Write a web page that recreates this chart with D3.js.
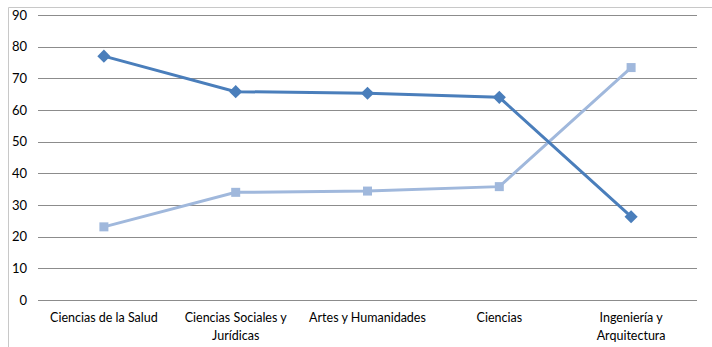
<!DOCTYPE html>
<html><head><meta charset="utf-8">
<script src="https://cdn.jsdelivr.net/npm/d3@7"></script>
<style>body{margin:0;background:#fff}svg{display:block}</style>
</head><body>
<script>
const categories = [["Ciencias de la Salud"], ["Ciencias Sociales y", "Jurídicas"], ["Artes y Humanidades"], ["Ciencias"], ["Ingeniería y", "Arquitectura"]];
const series1 = [77.0, 65.8, 65.3, 64.0, 26.3];
const series2 = [23.1, 34.0, 34.4, 35.8, 73.4];
const yTicks = [0, 10, 20, 30, 40, 50, 60, 70, 80, 90];

const W = 712, H = 347;
const svg = d3.select("body").append("svg").attr("width", W).attr("height", H);
const font = "Lato, 'Open Sans', sans-serif";

// frame
svg.append("path").attr("d", "M8.5,347 V7.5 H712").attr("fill", "none").attr("stroke", "#c8c8c8").attr("stroke-width", 1);

const x = d3.scaleBand().domain(d3.range(categories.length)).range([38, 697]);
const y = d3.scaleLinear().domain([0, 90]).range([300, 15]);

// gridlines
const yAxis = d3.axisLeft(y).tickValues(yTicks).tickSize(-(697 - 38)).tickPadding(11);
const gy = svg.append("g").attr("transform", "translate(38,0)").call(yAxis);
gy.select(".domain").remove();
gy.selectAll(".tick line").attr("stroke", "#8c8c8c").attr("stroke-width", 1).attr("shape-rendering", "crispEdges");
gy.selectAll(".tick text").attr("font-family", font).attr("font-size", 13).attr("fill", "#000");

// x labels
const xAxis = d3.axisBottom(x).tickSize(0).tickFormat(() => "");
const gx = svg.append("g").attr("transform", "translate(0,300)").call(xAxis);
gx.select(".domain").remove();
gx.selectAll(".tick").each(function(d) {
  const t = d3.select(this).append("text").attr("font-family", font).attr("font-size", 12.5)
    .attr("fill", "#000").attr("text-anchor", "middle");
  categories[d].forEach((ln, i) => {
    t.append("tspan").attr("x", 0).attr("y", 22 + i * 18).text(ln);
  });
});

const cx = i => x(i) + x.bandwidth() / 2;
const line = d3.line().x((d, i) => cx(i)).y(d => y(d));

const c1 = "#4a7ebb", c2 = "#a0b8dc";
svg.append("path").datum(series2).attr("d", line).attr("fill", "none").attr("stroke", c2).attr("stroke-width", 3);
svg.append("path").datum(series1).attr("d", line).attr("fill", "none").attr("stroke", c1).attr("stroke-width", 3);

svg.selectAll(".sq").data(series2).enter().append("rect")
  .attr("x", (d, i) => cx(i) - 4.5).attr("y", d => y(d) - 4.5).attr("width", 9).attr("height", 9).attr("fill", c2);
svg.selectAll(".dm").data(series1).enter().append("path")
  .attr("d", d3.symbol().type(d3.symbolDiamond2).size(110))
  .attr("transform", (d, i) => `translate(${cx(i)},${y(d)})`).attr("fill", c1);
</script>
</body></html>
